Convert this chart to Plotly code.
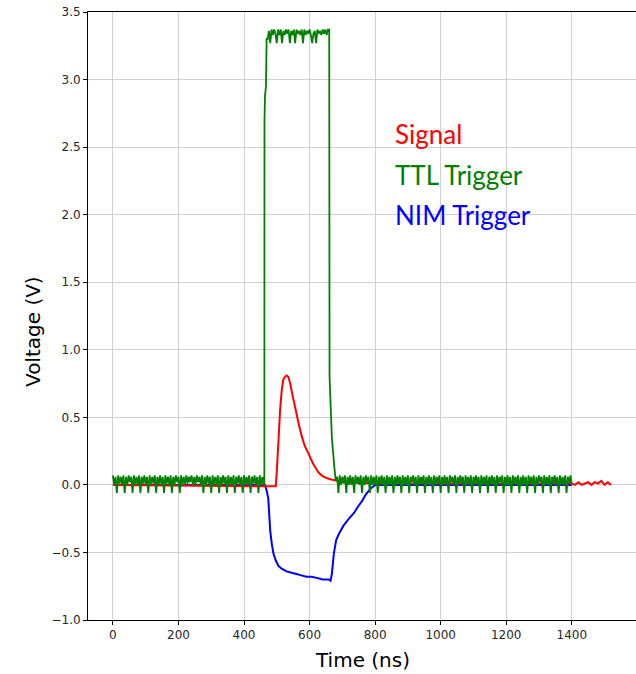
import numpy as np
import plotly.graph_objects as go

# ---------------- data ----------------
# TTL trigger, low noisy level before the pulse (t = 0..460 ns, 4 ns step)
ttl_low1_t = np.arange(0, 461, 4)
ttl_low1_v = [
    0.07, 0.0, 0.06, -0.06, 0.07, 0.01, 0.06, 0.0, 0.07, -0.06,
    0.06, 0.0, 0.07, 0.02, 0.06, -0.06, 0.07, 0.0, 0.06, 0.0,
    0.07, -0.06, 0.06, 0.01, 0.07, 0.0, 0.06, -0.06, 0.07, 0.0,
    0.06, 0.01, 0.07, -0.06, 0.06, 0.0, 0.07, 0.0, 0.06, -0.06,
    0.07, 0.01, 0.06, 0.0, 0.07, -0.06, 0.06, 0.0, 0.07, 0.02,
    0.06, -0.06, 0.07, 0.0, 0.06, 0.0, 0.07, 0.01, 0.06, 0.02,
    0.07, 0.0, 0.06, 0.0, 0.07, 0.02, 0.06, 0.0, 0.07, -0.06,
    0.06, 0.0, 0.07, 0.01, 0.06, -0.06, 0.07, 0.0, 0.06, 0.0,
    0.07, -0.06, 0.06, 0.0, 0.07, 0.01, 0.06, -0.06, 0.07, 0.0,
    0.06, 0.0, 0.07, -0.06, 0.06, 0.01, 0.07, 0.0, 0.06, -0.06,
    0.07, 0.0, 0.06, 0.0, 0.07, -0.06, 0.06, 0.01, 0.07, 0.0,
    0.06, -0.06, 0.07, 0.0, 0.06, 0.0,
]
# rising edge
ttl_rise_t = [462, 462.5, 464, 467, 469]
ttl_rise_v = [0.0, 2.70, 2.88, 2.95, 3.30]
# high noisy level (t = 472..656 ns, 4 ns step)
ttl_high_t = np.arange(472, 657, 4)
ttl_high_v = [
    3.30, 3.36, 3.27, 3.37, 3.33, 3.37, 3.34, 3.27, 3.37, 3.33,
    3.37, 3.27, 3.36, 3.33, 3.37, 3.34, 3.37, 3.27, 3.36, 3.33,
    3.37, 3.27, 3.37, 3.34, 3.36, 3.33, 3.37, 3.27, 3.37, 3.33,
    3.36, 3.34, 3.37, 3.33, 3.27, 3.34, 3.36, 3.27, 3.37, 3.34,
    3.36, 3.33, 3.37, 3.34, 3.37, 3.33, 3.37,
]
# falling edge
ttl_fall_t = [660, 661, 668, 676, 680]
ttl_fall_v = [3.37, 0.80, 0.35, 0.12, 0.03]
# low noisy level after the pulse (t = 684..1400 ns, 4 ns step)
ttl_low2_t = np.arange(684, 1401, 4)
ttl_low2_v = [
    0.06, -0.06, 0.07, 0.0, 0.06, 0.01, 0.07, -0.06, 0.06, 0.0,
    0.07, 0.0, 0.06, -0.06, 0.07, 0.01, 0.06, 0.0, 0.07, -0.06,
    0.06, 0.0, 0.07, 0.02, 0.06, -0.06, 0.07, 0.0, 0.06, 0.0,
    0.07, -0.06, 0.06, 0.01, 0.07, 0.0, 0.06, -0.06, 0.07, 0.0,
    0.06, 0.0, 0.07, -0.06, 0.06, 0.0, 0.07, 0.01, 0.06, -0.06,
    0.07, 0.0, 0.06, 0.0, 0.07, -0.06, 0.06, 0.02, 0.07, 0.0,
    0.06, -0.06, 0.07, 0.0, 0.06, 0.01, 0.07, -0.06, 0.06, 0.0,
    0.07, 0.0, 0.06, -0.06, 0.07, 0.0, 0.06, 0.01, 0.07, -0.06,
    0.06, 0.0, 0.07, 0.0, 0.06, -0.06, 0.07, 0.02, 0.06, 0.0,
    0.07, -0.06, 0.06, 0.0, 0.07, 0.01, 0.06, -0.06, 0.07, 0.0,
    0.06, 0.0, 0.07, -0.06, 0.06, 0.01, 0.07, 0.0, 0.06, -0.06,
    0.07, 0.0, 0.06, 0.0, 0.07, -0.06, 0.06, 0.01, 0.07, 0.0,
    0.06, -0.06, 0.07, 0.0, 0.06, 0.02, 0.07, -0.06, 0.06, 0.0,
    0.07, 0.0, 0.06, -0.06, 0.07, 0.01, 0.06, 0.0, 0.07, -0.06,
    0.06, 0.0, 0.07, 0.0, 0.06, -0.06, 0.07, 0.01, 0.06, 0.0,
    0.07, -0.06, 0.06, 0.0, 0.07, 0.02, 0.06, -0.06, 0.07, 0.0,
    0.06, 0.0, 0.07, -0.06, 0.06, 0.01, 0.07, 0.0, 0.06, -0.06,
    0.07, 0.0, 0.06, 0.0, 0.07, -0.06, 0.06, 0.01, 0.07, 0.0,
]

# Signal (red)
sig_t = [0, 462, 480, 497, 500, 505, 510, 515, 520, 525, 530, 535, 540, 545,
         550, 560, 567, 575, 585, 597, 610, 620, 628, 640, 650, 658, 670, 680,
         700, 750, 800, 900, 1000, 1100, 1200, 1300, 1400,
         1410, 1420, 1430, 1440, 1450, 1460, 1470, 1480, 1490, 1500, 1510, 1520]
sig_v = [0.0, -0.01, -0.01, -0.01, 0.10, 0.32, 0.55, 0.70, 0.78, 0.80, 0.81,
         0.80, 0.76, 0.70, 0.64, 0.53, 0.45, 0.37, 0.29, 0.23, 0.16, 0.12, 0.09,
         0.065, 0.052, 0.045, 0.038, 0.033, 0.025, 0.015, 0.01, 0.01, 0.01, 0.01,
         0.01, 0.01, 0.01,
         0.0, 0.02, 0.0, 0.01, 0.02, 0.0, 0.02, 0.01, 0.03, 0.0, 0.02, 0.0]

# NIM trigger (blue)
nim_t = [0, 462, 464, 470, 474, 480, 485, 490, 497, 505, 515, 530, 545, 560,
         575, 590, 607, 625, 640, 658, 664, 668, 674, 681, 690, 704, 720, 735,
         748, 760, 772, 785, 800, 1400]
nim_v = [0.0, 0.0, 0.0, -0.05, -0.10, -0.34, -0.44, -0.51, -0.56, -0.60,
         -0.62, -0.64, -0.65, -0.66, -0.67, -0.68, -0.68, -0.69, -0.70, -0.70,
         -0.71, -0.66, -0.51, -0.41, -0.36, -0.30, -0.25, -0.21, -0.16, -0.12,
         -0.07, -0.03, 0.0, 0.0]

x_ticks = [0, 200, 400, 600, 800, 1000, 1200, 1400]
y_ticks = [-1.0, -0.5, 0.0, 0.5, 1.0, 1.5, 2.0, 2.5, 3.0, 3.5]
legend_labels = ["Signal", "TTL Trigger", "NIM Trigger"]
legend_colors = ["#ff0000", "#008000", "#0000ff"]

# ---------------- figure ----------------
ttl_t = (list(ttl_low1_t) + ttl_rise_t + list(ttl_high_t) + ttl_fall_t
         + list(ttl_low2_t))
ttl_v = ttl_low1_v + ttl_rise_v + ttl_high_v + ttl_fall_v + ttl_low2_v

fig = go.Figure()
fig.add_trace(go.Scatter(x=nim_t, y=nim_v, mode="lines",
                         line=dict(color="#0000ff", width=2, simplify=False)))
fig.add_trace(go.Scatter(x=sig_t, y=sig_v, mode="lines",
                         line=dict(color="#ff0000", width=2, simplify=False)))
fig.add_trace(go.Scatter(x=ttl_t, y=ttl_v, mode="lines",
                         line=dict(color="#008000", width=1.8, simplify=False)))

tickfont = dict(family="DejaVu Sans", size=12, color="#262626")
fig.update_layout(
    width=636, height=674,
    margin=dict(l=88, r=0, t=12, b=54),
    paper_bgcolor="white", plot_bgcolor="white",
    showlegend=False,
    xaxis=dict(range=[-76, 1596], tickvals=x_ticks, ticks="outside",
               ticklen=4, tickcolor="black", showline=True, linecolor="black",
               linewidth=1, mirror=True, showgrid=True, gridcolor="#d0d0d0",
               gridwidth=1, zeroline=False, tickfont=tickfont),
    yaxis=dict(range=[-1.0, 3.5], tickvals=y_ticks, tickformat=".1f",
               ticks="outside", ticklen=4, tickcolor="black", showline=True,
               linecolor="black", linewidth=1, mirror=True, showgrid=True,
               gridcolor="#d0d0d0", gridwidth=1, zeroline=False,
               tickfont=tickfont),
)

# axis titles
fig.add_annotation(text="Time (ns)", xref="paper", yref="paper", x=0.5,
                   y=0, yanchor="top", yshift=-26, showarrow=False,
                   font=dict(family="DejaVu Sans", size=20, color="black"))
fig.add_annotation(text="Voltage (V)", xref="paper", yref="paper", x=0,
                   xanchor="center", xshift=-55, y=0.5, yshift=-16,
                   textangle=-90, showarrow=False,
                   font=dict(family="DejaVu Sans", size=20, color="black"))

# in-plot legend text
legend_y = [2.60, 2.29, 2.00]
for lab, col, yy in zip(legend_labels, legend_colors, legend_y):
    fig.add_annotation(text=lab, x=855, y=yy, xref="x", yref="y",
                       xanchor="left", yanchor="middle", showarrow=False,
                       font=dict(family="Lato", size=26, color=col))

fig.write_html("out.html")
